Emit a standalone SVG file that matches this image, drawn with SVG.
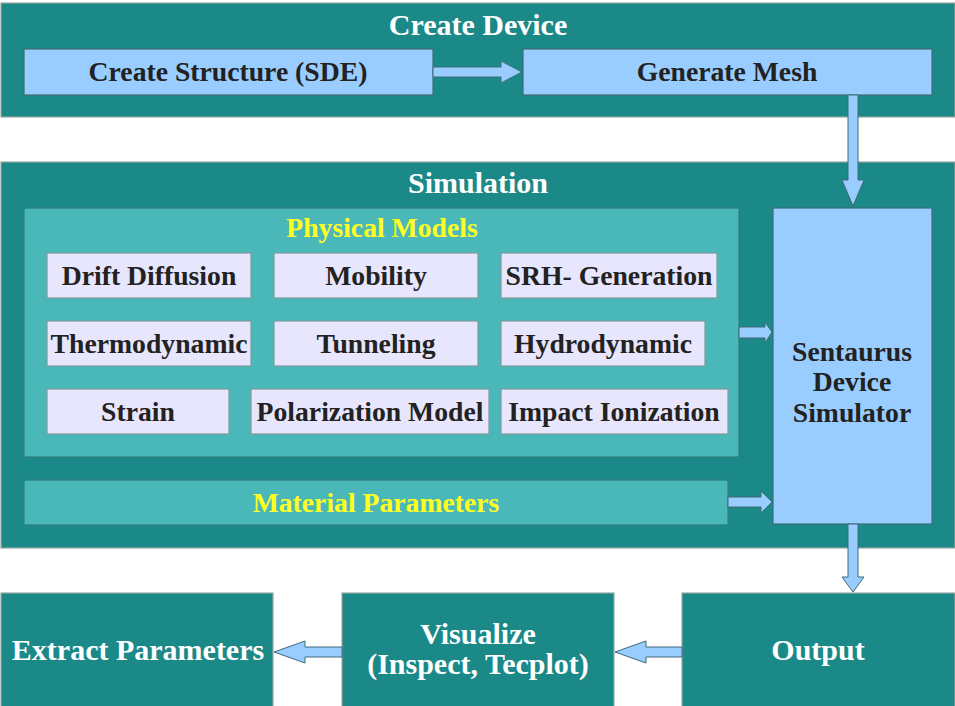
<svg xmlns="http://www.w3.org/2000/svg" width="955" height="706" viewBox="0 0 955 706">
<style>
text{font-family:'Liberation Serif','Times New Roman',serif;font-weight:700;text-anchor:middle}
.outer{fill:#1b8987;stroke:#9aa6a6;stroke-width:1.2}
.inner{fill:#4ab8b8;stroke:#2f7d7b;stroke-width:1.2}
.blue{fill:#99ccff;stroke:#3c6e75;stroke-width:1.2}
.model{fill:#e8e6fc;stroke:#7a9c9c;stroke-width:1.2}
.arrow{fill:#99ccff;stroke:#3f6a78;stroke-width:1}
.wt{fill:#ffffff;font-size:30px}
.yt{fill:#ffff22;font-size:27.7px}
.dt{fill:#222222;font-size:27.7px}
.bt{fill:#ffffff;font-size:30px}
</style>
<rect width="955" height="706" fill="#ffffff"/>
<g id="create-device">
<rect class="outer" x="1" y="3" width="954" height="114"/>
<text class="wt" x="478" y="35">Create Device</text>
</g>
<g id="create-structure">
<rect class="blue" x="24" y="49" width="409" height="46"/>
<text class="dt" x="228" y="81">Create Structure (SDE)</text>
</g>
<g id="generate-mesh">
<rect class="blue" x="523" y="49" width="409" height="46"/>
<text class="dt" x="727" y="81">Generate Mesh</text>
</g>
<g id="simulation">
<rect class="outer" x="1" y="162" width="954" height="386"/>
<text class="wt" x="478" y="193">Simulation</text>
</g>
<g id="physical-models">
<rect class="inner" x="24" y="208" width="715" height="249"/>
<text class="yt" x="382" y="237">Physical Models</text>
</g>
<g id="drift-diffusion"><rect class="model" x="47" y="253" width="204" height="45"/><text class="dt" x="149" y="285">Drift Diffusion</text></g>
<g id="mobility"><rect class="model" x="274" y="253" width="204" height="45"/><text class="dt" x="376" y="285">Mobility</text></g>
<g id="srh-generation"><rect class="model" x="501" y="253" width="216" height="45"/><text class="dt" x="609" y="285">SRH- Generation</text></g>
<g id="thermodynamic"><rect class="model" x="47" y="321" width="204" height="45"/><text class="dt" x="149" y="353">Thermodynamic</text></g>
<g id="tunneling"><rect class="model" x="274" y="321" width="204" height="45"/><text class="dt" x="376" y="353">Tunneling</text></g>
<g id="hydrodynamic"><rect class="model" x="501" y="321" width="204" height="45"/><text class="dt" x="603" y="353">Hydrodynamic</text></g>
<g id="strain"><rect class="model" x="47" y="389" width="182" height="45"/><text class="dt" x="138" y="421">Strain</text></g>
<g id="polarization-model"><rect class="model" x="251" y="389" width="238" height="45"/><text class="dt" x="370" y="421">Polarization Model</text></g>
<g id="impact-ionization"><rect class="model" x="501" y="389" width="227" height="45"/><text class="dt" x="614" y="421">Impact Ionization</text></g>
<g id="material-parameters">
<rect class="inner" x="24" y="480" width="704" height="45"/>
<text class="yt" x="376" y="512">Material Parameters</text>
</g>
<g id="sentaurus">
<rect class="blue" x="773" y="208" width="159" height="316"/>
<text class="dt" x="852" y="361">Sentaurus</text>
<text class="dt" x="852" y="391">Device</text>
<text class="dt" x="852" y="422">Simulator</text>
</g>
<g id="extract-parameters">
<rect class="outer" x="1" y="593" width="272" height="120"/>
<text class="bt" x="138" y="660">Extract Parameters</text>
</g>
<g id="visualize">
<rect class="outer" x="342" y="593" width="272" height="120"/>
<text class="bt" x="478" y="644">Visualize</text>
<text class="bt" x="478" y="674">(Inspect, Tecplot)</text>
</g>
<g id="output">
<rect class="outer" x="682" y="593" width="273" height="120"/>
<text class="bt" x="818" y="660">Output</text>
</g>
<g id="connectors">
<polygon class="arrow" points="433,67 501,67 501,61 522,72 501,83 501,77 433,77"/>
<polygon class="arrow" points="848,95 858,95 858,180 864,180 853,206 842,180 848,180"/>
<polygon class="arrow" points="739,327 765,327 765,322 772,332 765,343 765,338 739,338"/>
<polygon class="arrow" points="728,497 761,497 761,491 772,502 761,513 761,507 728,507"/>
<polygon class="arrow" points="848,524 858,524 858,577 864,577 853,592 842,577 848,577"/>
<polygon class="arrow" points="682,647 646,647 646,641 615,652 646,663 646,657 682,657"/>
<polygon class="arrow" points="342,647 305,647 305,641 274,652 305,663 305,657 342,657"/>
</g>
</svg>
